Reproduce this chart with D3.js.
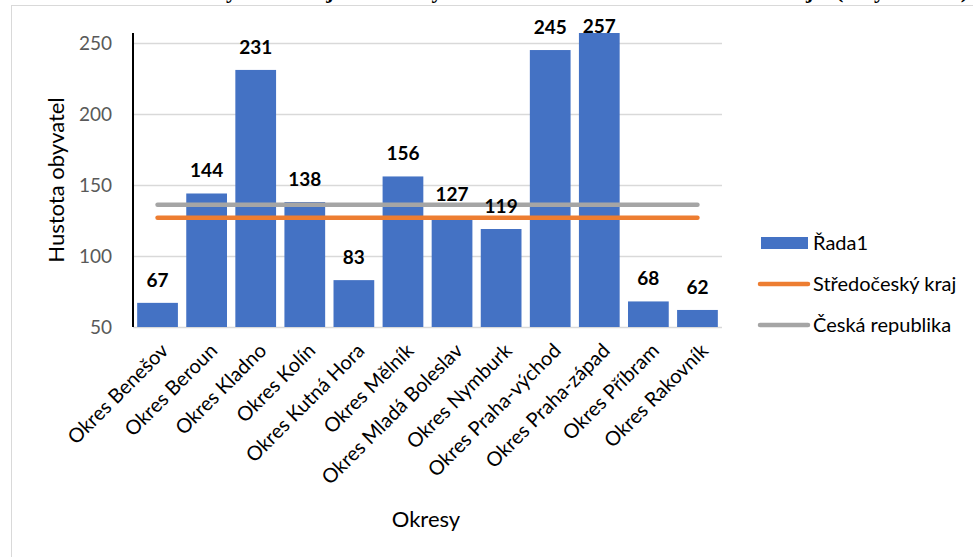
<!DOCTYPE html>
<html>
<head>
<meta charset="utf-8">
<script src="https://cdn.jsdelivr.net/npm/d3@7"></script>
<style>
  body { margin: 0; background: #fff; }
  svg { display: block; }
</style>
</head>
<body>
<div id="graph"></div>
<script>
/// Data
var okresy = ["Okres Benešov", "Okres Beroun", "Okres Kladno", "Okres Kolín", "Okres Kutná Hora",
  "Okres Mělník", "Okres Mladá Boleslav", "Okres Nymburk", "Okres Praha-východ",
  "Okres Praha-západ", "Okres Příbram", "Okres Rakovník"];
var hustota = [67, 144, 231, 138, 83, 156, 127, 119, 245, 257, 68, 62];
var stredocesky = 127;   // Středočeský kraj
var ceskaRep = 136;      // Česká republika
var yTicks = [50, 100, 150, 200, 250];
var seriesNames = ["Řada1", "Středočeský kraj", "Česká republika"];

//Geometry
var W = 973, H = 557;
var plot = { left: 133, right: 722, top: 33, bottom: 327 };
var blue = "#4472C4", orange = "#ED7D31", grey = "#A5A5A5";
var font = "Lato, 'Open Sans', sans-serif";

var svg = d3.select("#graph").append("svg")
  .attr("width", W)
  .attr("height", H);

// chart frame (runs off the page at the right / bottom)
svg.append("rect")
  .attr("x", 11.5).attr("y", 5.5)
  .attr("width", 1100).attr("height", 1100)
  .attr("fill", "none")
  .attr("stroke", "#d9d9d9");

// title, mostly cut off at the top of the picture (as in the source)
svg.append("text")
  .attr("x", 4).attr("y", -2)
  .attr("textLength", 964)
  .attr("lengthAdjust", "spacing")
  .style("font-family", "'Liberation Serif', serif")
  .style("font-weight", "bold")
  .style("font-size", "22px")
  .text("Graf 1: Hustota obyvatel v jednotlivých okresech Středočeského kraje (obyv./km²)");

var xScale = d3.scaleBand()
  .domain(okresy)
  .range([plot.left, plot.right])
  .paddingInner(0.17)
  .paddingOuter(0.085);
var yScale = d3.scaleLinear()
  .domain([50, 257])
  .range([plot.bottom, plot.top]);

// gridlines
svg.append("g")
  .selectAll("line")
  .data(yTicks)
  .join("line")
  .attr("x1", plot.left).attr("x2", plot.right)
  .attr("y1", function (d) { return Math.round(yScale(d)) + 0.5; })
  .attr("y2", function (d) { return Math.round(yScale(d)) + 0.5; })
  .attr("stroke", "#d9d9d9")
  .attr("stroke-width", 1.5);

// y axis
var yAxis = svg.append("g")
  .attr("transform", "translate(" + plot.left + ",0)")
  .call(d3.axisLeft(yScale).tickValues(yTicks).tickSize(0).tickPadding(21));
yAxis.select(".domain").remove();
yAxis.selectAll("text")
  .style("font-family", font)
  .style("font-size", "19px")
  .attr("fill", "#595959");

// bars
svg.append("g")
  .selectAll("rect")
  .data(hustota)
  .join("rect")
  .attr("x", function (d, i) { return xScale(okresy[i]); })
  .attr("width", xScale.bandwidth())
  .attr("y", function (d) { return yScale(d); })
  .attr("height", function (d) { return yScale(50) - yScale(d); })
  .attr("fill", blue);

// black vertical axis line
svg.append("line")
  .attr("x1", plot.left).attr("x2", plot.left)
  .attr("y1", yScale(257)).attr("y2", yScale(50))
  .attr("stroke", "#000")
  .attr("stroke-width", 2);

// reference lines, drawn over the bars
var first = xScale(okresy[0]) + xScale.bandwidth() / 2;
var last = xScale(okresy[okresy.length - 1]) + xScale.bandwidth() / 2;
[[ceskaRep, grey], [stredocesky, orange]].forEach(function (r) {
  svg.append("line")
    .attr("x1", first).attr("x2", last)
    .attr("y1", yScale(r[0])).attr("y2", yScale(r[0]))
    .attr("stroke", r[1])
    .attr("stroke-width", 4.5)
    .attr("stroke-linecap", "round");
});

// data labels (kept inside the chart at the top)
svg.append("g")
  .selectAll("text")
  .data(hustota)
  .join("text")
  .attr("x", function (d, i) { return xScale(okresy[i]) + xScale.bandwidth() / 2; })
  .attr("y", function (d) { return Math.max(yScale(d) - 23, 26); })
  .attr("dy", "0.35em")
  .attr("text-anchor", "middle")
  .style("font-family", "'Liberation Sans Narrow', " + font)
  .style("font-weight", "bold")
  .style("font-size", "19px")
  .text(function (d) { return d; });

// x tick labels
svg.append("g")
  .selectAll("text")
  .data(okresy)
  .join("text")
  .attr("transform", function (d) {
    return "translate(" + (xScale(d) + xScale.bandwidth() / 2 + 7) + "," + (plot.bottom + 20) + ") rotate(-45)";
  })
  .attr("text-anchor", "end")
  .attr("dy", "0.35em")
  .style("font-family", font)
  .style("font-size", "20px")
  .text(function (d) { return d; });

// axis titles
svg.append("text")
  .attr("transform", "translate(64," + ((plot.top + plot.bottom) / 2 + 0) + ") rotate(-90)")
  .attr("text-anchor", "middle")
  .style("font-family", font)
  .style("font-size", "22px")
  .text("Hustota obyvatel");
svg.append("text")
  .attr("x", 426).attr("y", 527)
  .attr("text-anchor", "middle")
  .style("font-family", font)
  .style("font-size", "22px")
  .text("Okresy");

// legend
var legend = svg.append("g").attr("transform", "translate(760,0)");
var legendY = [243, 284, 325];
legend.append("rect")
  .attr("x", 1).attr("y", legendY[0] - 6)
  .attr("width", 47).attr("height", 12)
  .attr("fill", blue);
[[legendY[1], orange], [legendY[2], grey]].forEach(function (l) {
  legend.append("line")
    .attr("x1", 0).attr("x2", 48)
    .attr("y1", l[0]).attr("y2", l[0])
    .attr("stroke", l[1])
    .attr("stroke-width", 4.5)
    .attr("stroke-linecap", "round");
});
legend.selectAll("text.leg")
  .data(seriesNames)
  .join("text")
  .attr("class", "leg")
  .attr("x", 53)
  .attr("y", function (d, i) { return legendY[i]; })
  .attr("dy", "0.35em")
  .style("font-family", font)
  .style("font-size", "20px")
  .text(function (d) { return d; });
</script>
</body>
</html>
